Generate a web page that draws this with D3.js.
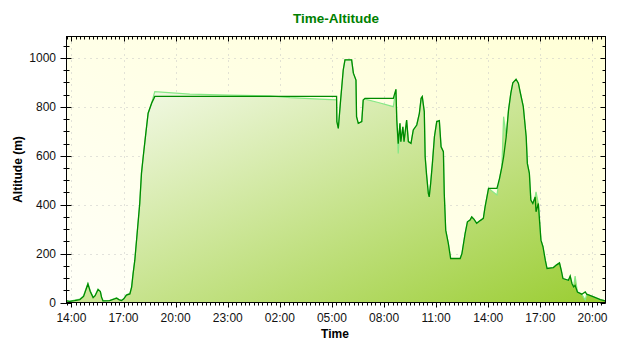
<!DOCTYPE html>
<html><head><meta charset="utf-8">
<script src="https://cdn.jsdelivr.net/npm/d3@7"></script>
<style>body{margin:0;background:#fff}svg{display:block}</style>
</head><body><svg id="c" width="640" height="350"></svg>
<script>
// ---- data ----
const times = [
"2020-06-01 13:43","2020-06-01 13:54","2020-06-01 14:11","2020-06-01 14:29","2020-06-01 14:42","2020-06-01 14:57",
"2020-06-01 15:05","2020-06-01 15:15","2020-06-01 15:22","2020-06-01 15:32","2020-06-01 15:40","2020-06-01 15:44",
"2020-06-01 15:49","2020-06-01 16:12","2020-06-01 16:36","2020-06-01 16:44","2020-06-01 16:53","2020-06-01 17:01",
"2020-06-01 17:10","2020-06-01 17:22","2020-06-01 17:28","2020-06-01 17:33","2020-06-01 17:39","2020-06-01 17:47",
"2020-06-01 17:56","2020-06-01 18:02","2020-06-01 18:08","2020-06-01 18:17","2020-06-01 18:25","2020-06-01 18:37",
"2020-06-01 18:45","2020-06-01 18:48","2020-06-01 20:49","2020-06-01 23:07",
"2020-06-02 01:26","2020-06-02 02:35","2020-06-02 04:18","2020-06-02 05:16","2020-06-02 05:17","2020-06-02 05:22",
"2020-06-02 05:30","2020-06-02 05:39","2020-06-02 05:45","2020-06-02 06:08","2020-06-02 06:14","2020-06-02 06:23",
"2020-06-02 06:25","2020-06-02 06:31","2020-06-02 06:43","2020-06-02 06:48","2020-06-02 06:54","2020-06-02 07:40",
"2020-06-02 08:32","2020-06-02 08:41","2020-06-02 08:44","2020-06-02 08:49","2020-06-02 08:55","2020-06-02 08:58",
"2020-06-02 09:05","2020-06-02 09:09","2020-06-02 09:18","2020-06-02 09:24","2020-06-02 09:33","2020-06-02 09:41",
"2020-06-02 09:53","2020-06-02 10:02","2020-06-02 10:08","2020-06-02 10:12","2020-06-02 10:19","2020-06-02 10:22",
"2020-06-02 10:27","2020-06-02 10:33","2020-06-02 10:36","2020-06-02 10:41","2020-06-02 10:47","2020-06-02 10:54",
"2020-06-02 11:02","2020-06-02 11:11","2020-06-02 11:17","2020-06-02 11:25","2020-06-02 11:28","2020-06-02 11:33",
"2020-06-02 11:42","2020-06-02 11:50","2020-06-02 12:23","2020-06-02 12:29","2020-06-02 12:40","2020-06-02 12:48",
"2020-06-02 12:57","2020-06-02 13:03","2020-06-02 13:11","2020-06-02 13:20","2020-06-02 13:32","2020-06-02 13:43",
"2020-06-02 13:49","2020-06-02 14:01","2020-06-02 14:30","2020-06-02 14:39","2020-06-02 14:47","2020-06-02 14:53",
"2020-06-02 15:02","2020-06-02 15:10","2020-06-02 15:18","2020-06-02 15:25","2020-06-02 15:36","2020-06-02 15:44",
"2020-06-02 15:50","2020-06-02 16:01","2020-06-02 16:11","2020-06-02 16:15","2020-06-02 16:22","2020-06-02 16:27",
"2020-06-02 16:34","2020-06-02 16:42","2020-06-02 16:45","2020-06-02 16:53","2020-06-02 16:57","2020-06-02 17:02",
"2020-06-02 17:09","2020-06-02 17:17","2020-06-02 17:23","2020-06-02 17:45","2020-06-02 17:55","2020-06-02 18:06",
"2020-06-02 18:12","2020-06-02 18:18","2020-06-02 18:37","2020-06-02 18:43","2020-06-02 18:49","2020-06-02 18:55",
"2020-06-02 19:00","2020-06-02 19:08","2020-06-02 19:23","2020-06-02 19:35","2020-06-02 19:40","2020-06-02 20:04",
"2020-06-02 20:27","2020-06-02 20:44"
];
const darkAlt = [
7,5,8,12,25,76, 45,20,28,53,45,22, 7,8,18,12,8,15, 30,35,63,117,173,282, 405,528,596,692,774,815,
835,843,843,843, 843,843,843,843,740,712, 828,951,992,992,938,910, 760,733,740,828,835,835,
835,872,746,650,733,658, 719,658,746,658,651,706, 726,774,835,842,781,596, 521,446,432,487,569,678,
740,744,637,617,446,296, 242,180,180,200,282,330, 337,350,340,324,335,344, 391,467,467,508,555,596,
678,787,856,899,913,897, 862,801,678,569,528,419, 405,432,371,405,337,255, 228,173,139,143,153,162,
132,98,91,108,78,64, 70,43,34,43,34,23, 12,7
];
const lightAlt = [
7,5,10,14,28,78, 48,22,30,55,45,22, 7,8,20,12,8,15, 32,38,63,117,173,282, 405,528,596,692,774,815,
850,862,852,848, 845,838,832,829,740,712, 828,951,992,992,938,910, 760,733,740,828,832,818,
801,872,746,610,733,658, 719,658,746,658,651,706, 726,774,835,842,781,596, 521,446,432,487,569,678,
740,744,637,617,446,296, 242,180,180,200,282,330, 337,350,340,324,335,344, 391,467,440,508,555,760,
678,787,856,899,913,897, 862,801,678,569,528,419, 405,432,453,405,337,255, 228,173,139,143,153,162,
132,98,91,108,78,64, 108,43,34,10,34,23, 12,7
];
const xTickTimes = ["2020-06-01 14:00","2020-06-01 17:00","2020-06-01 20:00","2020-06-01 23:00","2020-06-02 02:00",
  "2020-06-02 05:00","2020-06-02 08:00","2020-06-02 11:00","2020-06-02 14:00","2020-06-02 17:00","2020-06-02 20:00"];
const yTicks = [0,200,400,600,800,1000];
const title = "Time-Altitude", xTitle = "Time", yTitle = "Altitude (m)";

// ---- chart ----
const parse = d3.timeParse("%Y-%m-%d %H:%M");
const fmt = d3.timeFormat("%H:%M");
const T = times.map(parse);
const dark = T.map((t,i)=>({t, v: darkAlt[i]}));
const light = T.map((t,i)=>({t, v: lightAlt[i]}));

const L = 66.5, R = 605.5, TOP = 36.5, B = 302.5;
const x = d3.scaleTime().domain([T[0], parse("2020-06-02 20:45")]).range([L, R]);
const y = d3.scaleLinear().domain([0, 1088]).range([B, TOP]);

const svg = d3.select("#c");
svg.append("rect").attr("width",640).attr("height",350).attr("fill","#fff");
const defs = svg.append("defs");
const bg = defs.append("linearGradient").attr("id","bg").attr("x1",0).attr("y1",1).attr("x2",1).attr("y2",0);
bg.append("stop").attr("offset",0).attr("stop-color","#fffff8");
bg.append("stop").attr("offset",1).attr("stop-color","#ffffd6");
const ag = defs.append("linearGradient").attr("id","ag").attr("x1",0).attr("y1",0).attr("x2",1).attr("y2",1);
ag.append("stop").attr("offset",0).attr("stop-color","#ffffff");
ag.append("stop").attr("offset",1).attr("stop-color","#9acd32");
defs.append("clipPath").attr("id","clip").append("rect").attr("x",L).attr("y",TOP).attr("width",R-L).attr("height",B-TOP);

svg.append("rect").attr("x",L).attr("y",TOP).attr("width",R-L).attr("height",B-TOP).attr("fill","url(#bg)");

// grid
const xt = xTickTimes.map(parse);
const grid = svg.append("g").attr("stroke","#c4c4c4").attr("stroke-dasharray","1,5").attr("stroke-width",1);
grid.selectAll("line.v").data(xt).join("line").attr("x1",d=>Math.round(x(d))+0.5).attr("x2",d=>Math.round(x(d))+0.5)
  .attr("y1",TOP).attr("y2",B);
grid.selectAll("line.h").data(yTicks.slice(1)).join("line").attr("y1",d=>Math.round(y(d))+0.5).attr("y2",d=>Math.round(y(d))+0.5)
  .attr("x1",L).attr("x2",R);

const g = svg.append("g").attr("clip-path","url(#clip)");
g.append("path").datum(light).attr("fill","url(#ag)")
  .attr("d", d3.area().x(d=>x(d.t)).y0(y(0)).y1(d=>y(d.v)));
g.append("path").datum(light).attr("fill","none").attr("stroke","#86e886").attr("stroke-width",1.2)
  .attr("d", d3.line().x(d=>x(d.t)).y(d=>y(d.v)));
g.append("path").datum(dark).attr("fill","none").attr("stroke","#008a00").attr("stroke-width",1.3)
  .attr("d", d3.line().x(d=>x(d.t)).y(d=>y(d.v)));

// frame
svg.append("rect").attr("x",L).attr("y",TOP).attr("width",R-L).attr("height",B-TOP)
  .attr("fill","none").attr("stroke","#000");

// axes
const font = "'Liberation Sans', Arial, sans-serif";
const minorX = d3.timeMinute.every(15).range(x.domain()[0], x.domain()[1]);
const minorY = d3.range(0, 1088, 50);
const ax = svg.append("g").attr("stroke","#000").attr("stroke-width",1);
// bottom
ax.selectAll("line.bm").data(minorX).join("line").attr("x1",d=>Math.round(x(d))+0.5).attr("x2",d=>Math.round(x(d))+0.5)
  .attr("y1",B).attr("y2",B+3);
ax.selectAll("line.bM").data(xt).join("line").attr("x1",d=>Math.round(x(d))+0.5).attr("x2",d=>Math.round(x(d))+0.5)
  .attr("y1",B).attr("y2",B+5);
// top
ax.selectAll("line.tm").data(minorX).join("line").attr("x1",d=>Math.round(x(d))+0.5).attr("x2",d=>Math.round(x(d))+0.5)
  .attr("y1",TOP).attr("y2",TOP+3);
ax.selectAll("line.tM").data(xt).join("line").attr("x1",d=>Math.round(x(d))+0.5).attr("x2",d=>Math.round(x(d))+0.5)
  .attr("y1",TOP).attr("y2",TOP+5);
// left
ax.selectAll("line.lm").data(minorY).join("line").attr("y1",d=>Math.round(y(d))+0.5).attr("y2",d=>Math.round(y(d))+0.5)
  .attr("x1",L-3).attr("x2",L+3);
ax.selectAll("line.lM").data(yTicks).join("line").attr("y1",d=>Math.round(y(d))+0.5).attr("y2",d=>Math.round(y(d))+0.5)
  .attr("x1",L-6).attr("x2",L+5);
// right
ax.selectAll("line.rm").data(minorY).join("line").attr("y1",d=>Math.round(y(d))+0.5).attr("y2",d=>Math.round(y(d))+0.5)
  .attr("x1",R-3).attr("x2",R);
ax.selectAll("line.rM").data(yTicks).join("line").attr("y1",d=>Math.round(y(d))+0.5).attr("y2",d=>Math.round(y(d))+0.5)
  .attr("x1",R-5).attr("x2",R);

// labels
svg.selectAll("text.xl").data(xt).join("text").attr("x",d=>x(d)).attr("y",321.5)
  .attr("text-anchor","middle").attr("font-family",font).attr("font-size",12).attr("fill","#111").text(d=>fmt(d));
svg.selectAll("text.yl").data(yTicks).join("text").attr("x",56).attr("y",d=>y(d)+4.3)
  .attr("text-anchor","end").attr("font-family",font).attr("font-size",12).attr("fill","#111").text(d=>d);

svg.append("text").attr("x",336).attr("y",23).attr("text-anchor","middle").attr("font-family",font)
  .attr("font-weight","bold").attr("font-size",13.5).attr("fill","#008000").text(title);
svg.append("text").attr("x",335).attr("y",337.5).attr("text-anchor","middle").attr("font-family",font)
  .attr("font-weight","bold").attr("font-size",12).attr("fill","#000").text(xTitle);
svg.append("text").attr("transform","translate(21.5,169.5) rotate(-90)").attr("text-anchor","middle").attr("font-family",font)
  .attr("font-weight","bold").attr("font-size",12).attr("fill","#000").text(yTitle);
</script></body></html>
